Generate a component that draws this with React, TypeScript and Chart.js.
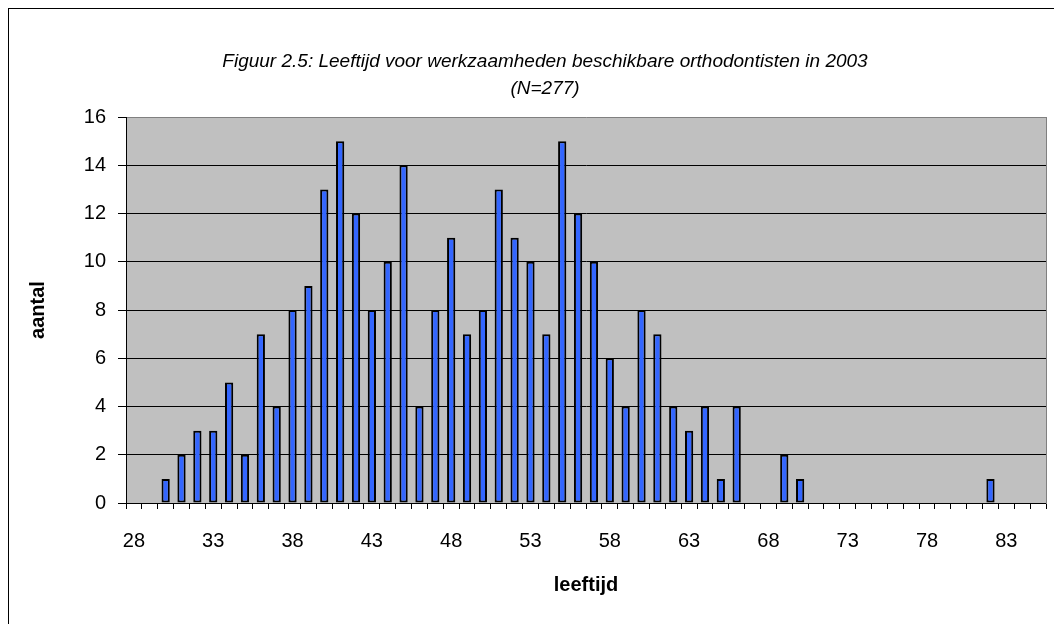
import React, { useEffect, useRef } from 'react';
import { Chart, registerables } from 'chart.js';

Chart.register(...registerables);

const titleLines = ['Figuur 2.5: Leeftijd voor werkzaamheden beschikbare orthodontisten in 2003', '(N=277)'];
const xAxisTitle = 'leeftijd';
const yAxisTitle = 'aantal';

const ages = [
  '28', '29', '30', '31', '32', '33', '34', '35', '36', '37',
  '38', '39', '40', '41', '42', '43', '44', '45', '46', '47',
  '48', '49', '50', '51', '52', '53', '54', '55', '56', '57',
  '58', '59', '60', '61', '62', '63', '64', '65', '66', '67',
  '68', '69', '70', '71', '72', '73', '74', '75', '76', '77',
  '78', '79', '80', '81', '82', '83', '84', '85',
];

const counts = [
  0, 0, 1, 2, 3, 3, 5, 2, 7, 4,
  8, 9, 13, 15, 12, 8, 10, 14, 4, 8,
  11, 7, 8, 13, 11, 10, 7, 15, 12, 10,
  6, 4, 8, 7, 4, 3, 4, 1, 4, 0,
  0, 2, 1, 0, 0, 0, 0, 0, 0, 0,
  0, 0, 0, 0, 1, 0, 0, 0,
];

const xTickLabels = ['28', '33', '38', '43', '48', '53', '58', '63', '68', '73', '78', '83'];
const yTickValues = [0, 2, 4, 6, 8, 10, 12, 14, 16];

const FONT = "'Liberation Sans', Arial, sans-serif";

const plotBackground = {
  id: 'plotBackground',
  beforeDraw(chart: any) {
    const { ctx, chartArea } = chart;
    ctx.save();
    ctx.fillStyle = '#C0C0C0';
    ctx.fillRect(chartArea.left, chartArea.top, chartArea.right - chartArea.left, chartArea.bottom - chartArea.top);
    ctx.restore();
  },
};

export default function App() {
  const canvasRef = useRef<HTMLCanvasElement | null>(null);

  useEffect(() => {
    if (!canvasRef.current) return;
    Chart.defaults.font.family = FONT;
    Chart.defaults.color = '#000000';
    const chart = new Chart(canvasRef.current, {
      type: 'bar',
      data: {
        labels: ages,
        datasets: [
          {
            label: yAxisTitle,
            data: counts,
            backgroundColor: '#3366FF',
            borderColor: '#000000',
            borderWidth: 2,
            borderSkipped: false,
            barPercentage: 0.52,
            categoryPercentage: 1,
          },
        ],
      },
      options: {
        responsive: false,
        animation: false,
        layout: { padding: 0 },
        plugins: {
          legend: { display: false },
          tooltip: { enabled: false },
          title: {
            display: true,
            text: titleLines,
            color: '#000000',
            font: { family: FONT, size: 19, style: 'italic', weight: 'normal', lineHeight: 27 / 19 },
            padding: { top: 39.5, bottom: 14.5 },
          },
        },
        scales: {
          x: {
            type: 'category',
            offset: true,
            grid: {
              display: true,
              drawOnChartArea: false,
              drawTicks: true,
              tickLength: 6,
              offset: true,
              color: '#000000',
              tickColor: '#000000',
            },
            border: { display: true, color: '#000000', width: 1 },
            ticks: {
              autoSkip: false,
              maxRotation: 0,
              minRotation: 0,
              padding: 20,
              color: '#000000',
              font: { family: FONT, size: 20 },
              callback: (_v: any, i: number) => (xTickLabels.includes(ages[i]) ? ages[i] : ''),
            },
            title: {
              display: true,
              text: xAxisTitle,
              color: '#000000',
              font: { family: FONT, size: 20, weight: 'bold' },
              padding: { top: 0, bottom: 27 },
            },
            afterFit: (s: any) => {
              s.height = 121;
            },
          },
          y: {
            type: 'linear',
            position: 'left',
            min: 0,
            max: 16,
            afterBuildTicks: (s: any) => {
              s.ticks = yTickValues.map((v) => ({ value: v }));
            },
            grid: {
              display: true,
              drawOnChartArea: true,
              drawTicks: true,
              tickLength: 8,
              color: (c: any) => (c.tick && c.tick.value === 16 ? '#808080' : '#000000'),
              tickColor: '#000000',
            },
            border: { display: true, color: '#000000', width: 1 },
            ticks: {
              padding: 12,
              color: '#000000',
              font: { family: FONT, size: 20 },
            },
            title: {
              display: true,
              text: yAxisTitle,
              color: '#000000',
              font: { family: FONT, size: 20, weight: 'bold' },
              padding: { top: 17, bottom: 0 },
            },
            afterFit: (s: any) => {
              s.width = 117;
            },
          },
          yRight: {
            type: 'linear',
            position: 'right',
            display: true,
            grid: { display: false, drawTicks: false },
            ticks: { display: false },
            border: { display: true, color: '#808080', width: 1 },
            afterFit: (s: any) => {
              s.width = 35;
            },
          },
        },
      },
      plugins: [plotBackground],
    });
    return () => chart.destroy();
  }, []);

  return (
    <div
      style={{
        position: 'fixed',
        left: 8,
        top: 8,
        width: 1100,
        height: 700,
        borderLeft: '1px solid #000',
        borderTop: '1px solid #000',
        overflow: 'hidden',
        background: '#fff',
      }}
    >
      <canvas ref={canvasRef} width={1072} height={615} style={{ display: 'block' }} />
    </div>
  );
}
